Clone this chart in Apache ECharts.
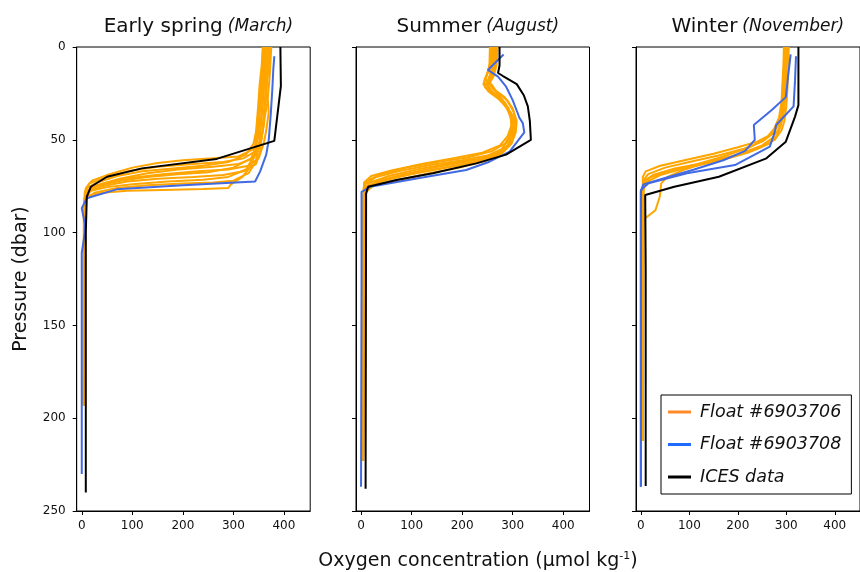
<!DOCTYPE html>
<html><head><meta charset="utf-8">
<script src="https://cdn.jsdelivr.net/npm/echarts@6/dist/echarts.min.js"></script>
<style>html,body{margin:0;padding:0;background:#fff}#c{width:860px;height:572px}</style>
</head><body><div id="c"></div>
<script>
// ---------- DATA: [oxygen (µmol/kg), pressure (dbar)] ----------
const panelTitles = ['Early spring', 'Summer', 'Winter'];
const panelMonths = ['(March)', '(August)', '(November)'];
const xTicks = [0, 100, 200, 300, 400];
const seriesNames = ['Float #6903706', 'Float #6903708', 'ICES data'];

// Early spring (March)
const springFloat06 = [
  [[368,0],[366,8],[362,18],[358,28],[355,38],[350,48],[340,55],[310,59],[260,60],[200,61],[150,62.5],[100,65],[50,69],[20,72],[8,76],[5,85],[4,120],[4,193]],
  [[372,0],[370,10],[366,22],[362,32],[360,42],[355,50],[345,56],[320,60],[280,62],[220,63],[150,64.5],[90,67],[45,70.5],[15,73.5],[6,78],[4,90],[4,193]],
  [[360,0],[358,12],[352,24],[350,34],[346,44],[340,52],[325,58],[290,62],[240,64],[180,65.5],[120,67],[70,69.5],[30,73],[10,76],[5,82],[4,193]],
  [[375,0],[372,15],[368,28],[370,35],[365,45],[360,52],[350,60],[330,64],[290,66],[230,67],[160,68.5],[100,70.5],[50,73],[20,75.5],[8,79],[5,90],[4,193]],
  [[364,0],[360,14],[356,26],[352,36],[349,46],[345,54],[335,60],[300,65],[250,67.5],[190,68.5],[130,70],[80,72],[35,74.5],[12,77],[6,82],[4,193]],
  [[370,0],[367,12],[363,26],[360,36],[357,46],[353,56],[345,63],[320,67],[280,69],[220,70],[150,71],[90,72.5],[40,75],[12,78],[6,84],[4,193]],
  [[358,0],[356,10],[352,20],[349,32],[346,42],[344,52],[338,60],[325,66],[290,70],[240,71.5],[170,72.5],[100,74],[50,75.5],[18,77.5],[7,81],[4,193]],
  [[366,0],[363,12],[360,24],[357,34],[354,44],[350,54],[344,62],[330,68],[300,72],[260,73],[200,73.5],[130,74.5],[70,76],[25,78.5],[8,82],[4,193]],
  [[362,0],[360,10],[356,20],[353,30],[350,40],[347,50],[342,58],[335,64],[318,70],[295,74],[290,76],[240,76.5],[160,77],[90,77.5],[40,78.5],[12,80],[6,84],[4,193]],
  [[372,0],[368,10],[364,20],[367,30],[362,38],[358,46],[352,54],[340,60],[310,63],[260,64.5],[190,66],[130,68],[75,71],[30,74.5],[10,78],[5,86],[4,193]]
];
const springFloat08 = [
  [[381,5],[379,12],[377,23],[374,36],[370,50],[365,58],[353,67],[343,72.5],[200,74.5],[69,76.7],[10,81.5],[0,86.8],[6,95],[6,100],[0,111],[0,230]]
];
const springICES = [[393,0],[394,21],[381,50.6],[267,60.3],[119,65.4],[50,69.9],[18,75.3],[10,80.6],[8,100],[8,240]];

// Summer (August)
const summerFloat06 = [
  [[258,0],[256,8],[250,14],[244,18],[246,22],[265,26],[285,30],[295,36],[298,42],[290,48],[275,53],[240,57],[180,60],[120,63],[60,66.5],[20,69.5],[6,73],[4,90],[3,223]],
  [[262,0],[260,9],[255,15],[248,20],[258,24],[278,29],[293,35],[300,41],[296,47],[285,52],[260,56],[210,59.5],[150,62],[90,65],[40,68.5],[12,72],[5,76],[4,223]],
  [[266,0],[264,8],[258,16],[250,21],[262,25],[282,30],[298,36],[304,42],[300,48],[290,53],[270,57],[230,60.5],[170,63],[110,66],[55,69.5],[18,73],[6,77],[4,223]],
  [[270,0],[268,10],[262,16],[255,19],[268,24],[290,29],[302,35],[306,42],[302,48],[294,53],[276,57.5],[240,61],[185,64],[125,67],[65,70.5],[20,74],[6,78],[4,223]],
  [[255,0],[254,10],[248,16],[242,20],[252,24],[272,28],[290,33],[300,40],[301,46],[296,51],[284,55],[255,59],[205,62],[145,65],[85,68.5],[35,72],[8,76],[4,223]],
  [[264,0],[262,10],[256,17],[250,22],[268,26],[286,31],[296,38],[300,45],[296,50],[286,55],[262,59],[220,62.5],[160,65.5],[100,68.5],[45,72],[12,75],[5,80],[4,223]],
  [[268,0],[266,9],[260,15],[252,20],[264,23],[284,27],[300,33],[308,40],[306,46],[298,52],[280,57],[245,61.5],[195,65],[135,68],[75,71.5],[25,74.5],[6,79],[4,223]],
  [[260,0],[258,8],[252,13],[246,17],[256,21],[276,27],[292,33],[298,39],[297,45],[292,50],[278,55],[250,58.5],[200,61],[140,63.5],[80,66.5],[30,70],[8,74],[4,223]]
];
const summerFloat08 = [
  [[282,4],[251,12.4],[271,16],[287,21.4],[300,28.6],[310,35.7],[313,38],[320,41],[323,46],[309,51],[294,56.4],[254,61.8],[208,66.3],[110,70.8],[18,75.3],[1,78],[1,120],[0,237]]
];
const summerICES = [[274,0],[274,10],[271,14],[280,15.5],[308,20],[322,26],[330,32],[334,40],[336,50],[287,58],[228,62.7],[142,68],[70,71.7],[14,75.3],[10,79],[9,238]];

// Winter (November)
const winterFloat06 = [
  [[295,0],[294,10],[292,20],[290,30],[285,38],[275,44],[262,48],[240,51],[200,54],[150,57.5],[90,61],[40,64],[10,67],[4,70],[4,80],[4,212]],
  [[300,0],[299,10],[297,20],[295,30],[292,38],[282,43],[270,47],[250,51],[210,55],[160,58.5],[100,62],[50,65],[15,68.5],[5,72],[4,212]],
  [[305,0],[304,12],[302,24],[300,32],[296,40],[290,45],[276,50],[240,55],[190,59],[130,62.5],[70,65.5],[25,69],[8,72],[4,78],[4,212]],
  [[298,0],[297,12],[295,24],[293,32],[290,40],[285,44],[272,49],[250,53],[200,58],[140,62],[90,66],[55,70],[42,73.5],[39,80.7],[30,88],[13,91.5],[6,92.5],[4,100],[4,212]],
  [[302,0],[301,10],[299,20],[297,30],[294,37],[288,43],[280,48],[265,52],[220,57],[160,61.5],[95,65],[40,69],[10,73],[4,78],[4,212]],
  [[296,0],[295,10],[293,20],[291,30],[289,38],[280,42],[275,46],[255,50],[225,54],[170,59],[110,63.5],[55,67],[18,70.5],[6,75],[4,212]]
];
const winterFloat08 = [
  [[309,4],[304,15],[299,27],[270,34],[233,42],[235,50],[215,56],[170,61],[110,66],[50,70.5],[5,74],[0,78],[0,237]],
  [[320,5],[318,18],[315,32],[279,42],[276,46],[266,53.7],[194,63.6],[95,68],[16,73.4],[0,77],[0,237]]
];
const winterICES = [[325,0],[325,31.3],[318,37.5],[299,51],[259,60],[161,69.9],[69,75.3],[9,79.7],[10,120],[10,236.5]];

// ---------- CHART ----------
const panels = [
  {f06: springFloat06, f08: springFloat08, ices: springICES},
  {f06: summerFloat06, f08: summerFloat08, ices: summerICES},
  {f06: winterFloat06, f08: winterFloat08, ices: winterICES}
];
const gridLeft = [76.7, 356, 636];
const gridW = 233.5, gridTop = 47, gridH = 464;
const FONT = 'DejaVu Sans';
const cOrange = '#ffa500', cBlue = '#4169e1', cBlack = '#000000';

const grids = [], xAxes = [], yAxes = [], series = [], titles = [];
panels.forEach((pn, i) => {
  grids.push({left: gridLeft[i], top: gridTop, width: gridW, height: gridH,
    show: true, borderColor: '#000', borderWidth: 1, backgroundColor: 'transparent'});
  xAxes.push({type: 'value', gridIndex: i, min: -10, max: 452,
    axisLine: {show: true, onZero: false, lineStyle: {color: '#000', width: 1}},
    splitLine: {show: false},
    axisTick: {show: true, inside: false, length: 4, lineStyle: {color: '#000'}, customValues: xTicks},
    axisLabel: {show: true, customValues: xTicks, fontFamily: FONT, fontSize: 12, color: '#111', margin: 9}
  });
  yAxes.push({type: 'value', gridIndex: i, min: 0, max: 250, interval: 50, inverse: true,
    axisLine: {show: true, onZero: false, lineStyle: {color: '#000', width: 1}},
    splitLine: {show: false},
    axisTick: {show: true, inside: false, length: 4, lineStyle: {color: '#000'}},
    axisLabel: {show: i === 0, fontFamily: FONT, fontSize: 12, color: '#111', margin: 11},
    name: i === 0 ? 'Pressure (dbar)' : '',
    nameLocation: 'middle', nameGap: 46, nameRotate: 90,
    nameTextStyle: {fontFamily: FONT, fontSize: 19, color: '#111'}
  });
  const line = (name, data, color, z) => ({
    type: 'line', name: name, xAxisIndex: i, yAxisIndex: i, data: data,
    showSymbol: false, symbol: 'none', smooth: false, silent: true, animation: false,
    lineStyle: {color: color, width: 2}, itemStyle: {color: color}, z: z
  });
  pn.f06.forEach(d => series.push(line(seriesNames[0], d, cOrange, 2)));
  pn.f08.forEach(d => series.push(line(seriesNames[1], d, cBlue, 3)));
  series.push(line(seriesNames[2], pn.ices, cBlack, 4));
  titles.push({
    text: '{m|' + panelTitles[i] + '} {s|' + panelMonths[i] + '}',
    left: gridLeft[i] + gridW / 2, top: 12, textAlign: 'center',
    textStyle: {fontWeight: 'normal', rich: {
      m: {fontFamily: FONT, fontSize: 20, fontWeight: 'normal', color: '#111'},
      s: {fontFamily: FONT, fontSize: 17, fontWeight: 'normal', fontStyle: 'italic', color: '#111'}
    }}
  });
});
titles.push({
  text: 'Oxygen concentration (µmol kg{sup|-1})',
  left: 473, top: 546, textAlign: 'center',
  textStyle: {fontFamily: FONT, fontSize: 19, fontWeight: 'normal', color: '#111',
    rich: {sup: {fontFamily: FONT, fontSize: 11, color: '#111', verticalAlign: 'top', padding: [0,0,9,0]}}}
});

const option = {
  animation: false,
  backgroundColor: '#fff',
  title: titles,
  grid: grids, xAxis: xAxes, yAxis: yAxes,
  legend: {
    left: 661, top: 395, orient: 'vertical',
    backgroundColor: '#fff', borderColor: '#000', borderWidth: 1, borderRadius: 0,
    padding: [7, 10, 7, 7], itemGap: 12.5, itemWidth: 23, itemHeight: 3,
    icon: 'rect', selectedMode: false,
    textStyle: {fontFamily: FONT, fontSize: 17.5, fontStyle: 'italic', color: '#111', lineHeight: 20, padding: [0,0,0,4]},
    data: [
      {name: seriesNames[0], itemStyle: {color: '#ff8a2a'}},
      {name: seriesNames[1], itemStyle: {color: '#1f6bff'}},
      {name: seriesNames[2], itemStyle: {color: '#000'}}
    ]
  },
  series: series
};
const chart = echarts.init(document.getElementById('c'), null, {renderer: 'canvas'});
chart.setOption(option);
</script></body></html>
